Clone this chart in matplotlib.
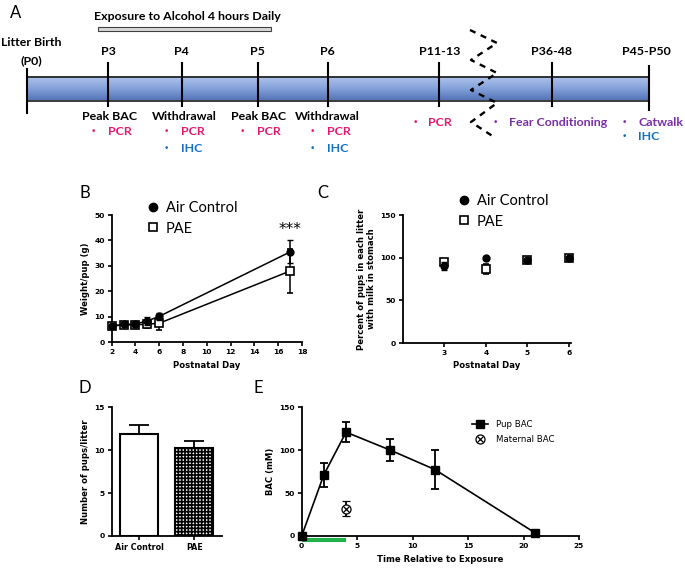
import numpy as np
import matplotlib
matplotlib.use("Agg")
import matplotlib.pyplot as plt
from matplotlib.patches import Rectangle
from matplotlib.lines import Line2D
from matplotlib.colors import LinearSegmentedColormap

# ---------------- data ----------------
# Panel A: timeline
timeline_labels = ["Litter Birth\n(P0)", "P3", "P4", "P5", "P6", "P11-13", "P36-48", "P45-P50"]
exposure_label = "Exposure to Alcohol 4 hours Daily"
event_labels = ["Peak BAC", "Withdrawal", "Peak BAC", "Withdrawal"]
event_assays = [["PCR"], ["PCR", "IHC"], ["PCR"], ["PCR", "IHC"]]
late_assays = [["PCR"], ["Fear Conditioning"], ["Catwalk", "IHC"]]

# Panel B: weight per pup
b_days = [2, 3, 4, 5, 6, 17]
b_air = [6.5, 7.0, 7.2, 8.4, 10.2, 35.5]
b_air_err = [0.6, 0.7, 1.0, 1.5, 1.3, 4.5]
b_pae = [6.4, 6.8, 6.9, 7.1, 7.5, 28.0]
b_pae_err = [0.6, 0.7, 0.9, 1.6, 2.5, 8.5]

# Panel C: percent pups with milk
c_days = [3, 4, 5, 6]
c_air = [90, 100, 97, 100]
c_air_err = [5, 0, 1, 0]
c_pae = [95, 87, 97, 100]
c_pae_err = [3, 6, 1, 0]

# Panel D: pups per litter
d_groups = ["Air Control", "PAE"]
d_vals = [11.9, 10.3]
d_err = [1.0, 0.75]

# Panel E: BAC
e_time = [0, 2, 4, 8, 12, 21]
e_pup = [0, 71.5, 121, 100, 77.5, 4]
e_pup_err = [1.5, 14, 12, 13, 22.5, 1.5]
e_mat_time = [4]
e_mat = [32]
e_mat_err = [8.7]
e_exposure = [0, 4]

# ---------------- figure ----------------
W, H = 685, 568
fig = plt.figure(figsize=(W / 100, H / 100), dpi=100)

axA = fig.add_axes([0, 0, 1, 1], zorder=0)
axA.set_xlim(0, W)
axA.set_ylim(H, 0)
axA.axis("off")

LATO = "Lato"
AXF = "DejaVu Sans"
FS_A = 8.9
col = {"PCR": "#E8196E", "IHC": "#1470C4", "Fear Conditioning": "#7A2FA8", "Catwalk": "#7A2FA8"}

# panel letters
for lab, (x, y) in zip("ABCDE", [(16, 13), (85, 193), (323, 193), (85, 388), (258, 388)]):
    axA.text(x, y, lab, fontsize=12, family=LATO, ha="center", va="center")

# exposure bar
axA.text(187, 16, exposure_label, fontsize=FS_A, family=LATO, weight="bold", ha="center", va="center")
axA.add_patch(Rectangle((98, 26.7), 172.7, 4, fc="#d9d9d9", ec="#404040", lw=0.8))

# timeline bar with gradient
tick_x = [26.7, 108.3, 181.7, 257.7, 327.7, 439, 552.3, 649]
grad = np.linspace(0, 1, 60).reshape(-1, 1)
cmap = LinearSegmentedColormap.from_list("bar", ["#b0c4ec", "#86a3da", "#5575b8"])
axA.imshow(grad, extent=(tick_x[0], tick_x[-1], 100.5, 76.5), cmap=cmap, aspect="auto", zorder=1)
axA.add_patch(Rectangle((tick_x[0], 76.5), tick_x[-1] - tick_x[0], 24, fill=False, ec="#1a1a1a", lw=1.2, zorder=2))
axA.set_xlim(0, W)
axA.set_ylim(H, 0)

for i, x in enumerate(tick_x):
    if i == 0:
        y0, y1 = 69, 113
    elif i == len(tick_x) - 1:
        y0, y1 = 66, 110
    else:
        y0, y1 = 63, 106
    axA.plot([x, x], [y0, y1], color="black", lw=1.5, zorder=3)

# top labels
axA.text(31, 42, "Litter Birth", fontsize=FS_A, family=LATO, weight="bold", ha="center", va="center")
axA.text(31.7, 61, "(P0)", fontsize=FS_A, family=LATO, weight="bold", ha="center", va="center")
label_cx = [None, 108.3, 181.7, 257.7, 327.7, 440, 551.7, 646.7]
for lab, x in zip(timeline_labels[1:], label_cx[1:]):
    axA.text(x, 51.7, lab, fontsize=FS_A, family=LATO, weight="bold", ha="center", va="center")

# events under P3-P6
event_cx = [110, 184.3, 259, 327]
for lab, cx, assays, tx in zip(event_labels, event_cx, event_assays, tick_x[1:5]):
    axA.text(cx, 116, lab, fontsize=FS_A, family=LATO, weight="bold", ha="center", va="center")
    for j, a in enumerate(assays):
        y = 131.7 + 16.6 * j
        axA.text(tx - 15, y, "\u2022", fontsize=6.5, color=col[a], ha="center", va="center")
        axA.text(tx - 0.5, y, a, fontsize=FS_A, family=LATO, weight="bold", color=col[a], ha="left", va="center")

# late assays
late_bx = [415, 495, 624]
late_tx = [428.3, 509.3, 638.3]
for assays, bx, tx in zip(late_assays, late_bx, late_tx):
    for j, a in enumerate(assays):
        y = 122.3 + 14.4 * j
        axA.text(bx, y, "\u2022", fontsize=6.5, color=col[a], ha="center", va="center")
        axA.text(tx, y, a, fontsize=FS_A, family=LATO, weight="bold", color=col[a], ha="left", va="center")

# zigzag break
zx = [470, 497, 471, 497, 471, 497, 471, 494]
zy = [30, 43, 60, 73, 90, 103, 122, 137]
axA.plot(zx, zy, color="black", lw=1.7, dashes=(2.6, 2.4), zorder=4)

# ---------------- common axis style ----------------
def style(ax, fs=5.4):
    for s in ["top", "right"]:
        ax.spines[s].set_visible(False)
    for s in ["left", "bottom"]:
        ax.spines[s].set_linewidth(1.3)
    ax.tick_params(direction="out", length=3, width=1.2, labelsize=fs, pad=2)
    for t in ax.get_xticklabels() + ax.get_yticklabels():
        t.set_fontweight("bold")
        t.set_family(AXF)

def fr(x0, y0, x1, y1):
    return [x0 / W, 1 - y1 / H, (x1 - x0) / W, (y1 - y0) / H]

lab_kw = dict(fontsize=6.1, fontweight="bold", family=AXF)
leg_kw = dict(bbox_transform=fig.transFigure, frameon=False, borderpad=0, borderaxespad=0,
              handlelength=0.8, handletextpad=0.5, labelspacing=0.45, prop={"family": LATO, "size": 10.5})

# ---------------- Panel B ----------------
axB = fig.add_axes(fr(111.7, 215, 302, 342.3))
axB.errorbar(b_days, b_pae, yerr=b_pae_err, fmt="-s", color="black", mfc="white", mec="black",
             ms=5.5, mew=1.2, lw=1.1, capsize=2, elinewidth=1.1, clip_on=False, zorder=3)
axB.errorbar(b_days, b_air, yerr=b_air_err, fmt="-o", color="black", ms=5, lw=1.1,
             capsize=2, elinewidth=1.1, clip_on=False, zorder=4)
axB.set_xlim(2, 18)
axB.set_ylim(0, 50)
axB.set_xticks(range(2, 19, 2))
axB.set_yticks(range(0, 51, 10))
style(axB)
axB.set_xlabel("Postnatal Day", labelpad=4, **lab_kw)
axB.set_ylabel("Weight/pup (g)", labelpad=3, **lab_kw)
axB.text(17, 44.5, "***", fontsize=11, ha="center", va="center")
hB = [Line2D([], [], marker="o", color="black", ls="none", ms=6),
      Line2D([], [], marker="s", color="black", mfc="white", mew=1.2, ls="none", ms=6)]
axB.legend(hB, ["Air Control", "PAE"], loc="upper left", bbox_to_anchor=(147 / W, 1 - 201 / H), **leg_kw)

# ---------------- Panel C ----------------
axC = fig.add_axes(fr(403, 215, 571, 343))
axC.errorbar(c_days, c_pae, yerr=c_pae_err, fmt="s", color="black", mfc="white", mec="black",
             ms=5.5, mew=1.2, capsize=2, elinewidth=1.1, clip_on=False, zorder=3)
axC.errorbar(c_days, c_air, yerr=c_air_err, fmt="o", color="black", ms=5,
             capsize=2, elinewidth=1.1, clip_on=False, zorder=4)
axC.set_xlim(2, 6.05)
axC.set_ylim(0, 150)
axC.set_xticks(c_days)
axC.set_yticks([0, 50, 100, 150])
style(axC)
axC.set_xlabel("Postnatal Day", labelpad=4, **lab_kw)
axC.set_ylabel("Percent of pups in each litter\nwith milk in stomach", labelpad=3, **lab_kw)
axC.legend(hB, ["Air Control", "PAE"], loc="upper left", bbox_to_anchor=(458 / W, 1 - 194 / H), **leg_kw)

# ---------------- Panel D ----------------
plt.rcParams["hatch.linewidth"] = 1.2
axD = fig.add_axes(fr(111.7, 407.3, 221.7, 536))
xD = np.arange(len(d_groups))
bars = axD.bar(xD, d_vals, width=0.68, color="white", edgecolor="black", lw=1.5, zorder=2)
bars[1].set_hatch("+++++")
axD.errorbar(xD, d_vals, yerr=[[0] * len(d_vals), d_err], fmt="none", ecolor="black",
             elinewidth=1.3, capsize=7.5, capthick=1.3, zorder=3)
axD.set_xlim(-0.5, 1.5)
axD.set_ylim(0, 15)
axD.set_yticks([0, 5, 10, 15])
axD.set_xticks(xD)
axD.set_xticklabels(d_groups)
style(axD)
axD.tick_params(axis="x", labelsize=5.8)
axD.set_ylabel("Number of pups/litter", labelpad=3, **lab_kw)

# ---------------- Panel E ----------------
axE = fig.add_axes(fr(301.7, 407.3, 579, 536))
axE.errorbar(e_time, e_pup, yerr=e_pup_err, fmt="-s", color="black", ms=5.5, lw=1.2,
             capsize=3, elinewidth=1.3, capthick=1.3, clip_on=False, zorder=4)
axE.errorbar(e_mat_time, e_mat, yerr=e_mat_err, fmt="o", color="black", mfc="white", ms=6.5, mew=0.9,
             capsize=3, elinewidth=1.3, capthick=1.3, zorder=4)
axE.plot(e_mat_time, e_mat, "x", color="black", ms=4.5, mew=0.9, zorder=5)
axE.plot(e_exposure, [-0.032, -0.032], color="#21b24b", lw=3, solid_capstyle="butt",
         transform=axE.get_xaxis_transform(), clip_on=False)
axE.set_xlim(0, 25)
axE.set_ylim(0, 150)
axE.set_xticks(range(0, 26, 5))
axE.set_yticks([0, 50, 100, 150])
style(axE)
axE.set_xlabel("Time Relative to Exposure", labelpad=4, **lab_kw)
axE.set_ylabel("BAC (mM)", labelpad=3, **lab_kw)
hE = [Line2D([], [], marker="s", color="black", lw=1.2, ms=5.5),
      (Line2D([], [], marker="o", color="black", mfc="white", ls="none", ms=6.5, mew=0.9),
       Line2D([], [], marker="x", color="black", ls="none", ms=4.5, mew=0.9))]
axE.legend(hE, ["Pup BAC", "Maternal BAC"], loc="upper left", bbox_to_anchor=(472 / W, 1 - 420 / H),
           bbox_transform=fig.transFigure, frameon=False, borderpad=0, borderaxespad=0,
           handlelength=1.8, handletextpad=1.0, labelspacing=0.7, prop={"family": AXF, "size": 6.2})

fig.savefig("out.png", dpi=100)
